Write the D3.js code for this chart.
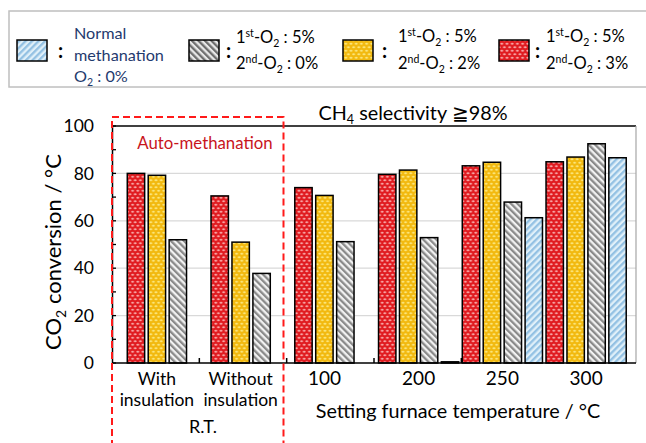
<!DOCTYPE html>
<html><head><meta charset="utf-8">
<script src="https://cdn.jsdelivr.net/npm/d3@7"></script>
<style>
html,body{margin:0;padding:0;background:#fff;}
svg{display:block;font-family:Lato,"Noto Sans",sans-serif;}
</style></head>
<body>
<svg id="chart" width="646" height="443"></svg>
<script>
// ---------- data ----------
const categories = ["With insulation", "Without insulation", "100", "200", "250", "300"];
const categoryLines = [["With", "insulation"], ["Without", "insulation"], ["100"], ["200"], ["250"], ["300"]];
const seriesKeys = ["o2_5_3", "o2_5_2", "o2_5_0", "normal"];
const redValues    = [80.0, 70.5, 74.0, 79.6, 83.2, 84.9];   // 1st-O2 5% / 2nd-O2 3%
const yellowValues = [79.2, 51.0, 70.7, 81.4, 84.7, 86.9];   // 1st-O2 5% / 2nd-O2 2%
const grayValues   = [52.0, 37.8, 51.2, 52.9, 67.9, 92.5];   // 1st-O2 5% / 2nd-O2 0%
const blueValues   = [null, null, null, 0.5, 61.3, 86.6];    // normal methanation O2 0%
const yTicks = [0, 20, 40, 60, 80, 100];
const yMinorTicks = [10, 30, 50, 70, 90];

const seriesValues = [redValues, yellowValues, grayValues, blueValues];
const seriesFill = ["url(#pRed)", "url(#pYellow)", "url(#pGray)", "url(#pBlue)"];

// ---------- setup ----------
const svg = d3.select("#chart");
const plot = {left: 112, right: 636, top: 126, bottom: 363};

const y = d3.scaleLinear().domain([0, 100]).range([plot.bottom, plot.top]);
const xGroup = d3.scaleBand().domain(categories).range([125.5, 628]).paddingInner(0).paddingOuter(0);
const xSeries = d3.scaleBand().domain(seriesKeys).range([0, xGroup.bandwidth()]).paddingInner(0.17).paddingOuter(0.085);
const xAxisBand = d3.scaleBand().domain(categories).range([plot.left, plot.right]);

// ---------- patterns ----------
const defs = svg.append("defs");
function dotPattern(id, base, dot) {
  const p = defs.append("pattern").attr("id", id).attr("patternUnits", "userSpaceOnUse")
    .attr("width", 5.2).attr("height", 7);
  p.append("rect").attr("width", 5.2).attr("height", 7).attr("fill", base);
  [[2.6, 1.75], [0, 5.25], [5.2, 5.25]].forEach(([cx, cy]) =>
    p.append("ellipse").attr("cx", cx).attr("cy", cy).attr("rx", 1.5).attr("ry", 1.0).attr("fill", dot));
}
dotPattern("pRed", "#e01b20", "#f7a3a3");
dotPattern("pYellow", "#f2b90f", "#fbe57a");
function stripePattern(id, c1, c2, angle, w) {
  const p = defs.append("pattern").attr("id", id).attr("patternUnits", "userSpaceOnUse")
    .attr("width", w).attr("height", w).attr("patternTransform", `rotate(${angle})`);
  p.append("rect").attr("width", w).attr("height", w).attr("fill", c2);
  p.append("rect").attr("width", w / 2).attr("height", w).attr("fill", c1);
}
stripePattern("pGray", "#8a8a8a", "#f2f2f2", -45, 4.6);
stripePattern("pBlue", "#93c1e3", "#e0f0f9", 45, 4.6);
stripePattern("pGrayLeg", "#6e6e6e", "#e8e8e8", -45, 4.6);

// ---------- legend ----------
svg.append("rect").attr("x", 9).attr("y", 11).attr("width", 700).attr("height", 76)
  .attr("fill", "#fff").attr("stroke", "#bfbfbf").attr("stroke-width", 1.5);

function swatch(x, yy, fill) {
  svg.append("rect").attr("x", x).attr("y", yy).attr("width", 30).attr("height", 21)
    .attr("fill", fill).attr("stroke", "#000").attr("stroke-width", 1.5);
}
function colon(x) {
  svg.append("text").attr("x", x).attr("y", 58).attr("font-size", 20).attr("font-weight", "bold").text(":");
}
function o2Line(x, yy, num, sup, val) {
  const t = svg.append("text").attr("x", x).attr("y", yy).attr("font-size", 16.5).attr("fill", "#000");
  t.append("tspan").text(num);
  t.append("tspan").attr("font-size", 10.5).attr("dy", -6).text(sup);
  t.append("tspan").attr("dy", 6).text("-O");
  t.append("tspan").attr("font-size", 10.5).attr("dy", 4).text("2");
  t.append("tspan").attr("dy", -4).text(" : " + val);
}
swatch(17, 40, "url(#pBlue)");
colon(58);
const nt = svg.append("g").attr("fill", "#1f3a6e").attr("font-size", 16.2);
nt.append("text").attr("x", 74).attr("y", 39).text("Normal");
nt.append("text").attr("x", 74).attr("y", 61).text("methanation");
const o2t = nt.append("text").attr("x", 74).attr("y", 82);
o2t.append("tspan").text("O");
o2t.append("tspan").attr("font-size", 10.5).attr("dy", 4).text("2");
o2t.append("tspan").attr("dy", -4).text(" : 0%");

swatch(189, 40, "url(#pGrayLeg)");
colon(226);
o2Line(236, 43, "1", "st", "5%");
o2Line(236, 69, "2", "nd", "0%");

swatch(343, 40, "url(#pYellow)");
colon(382);
o2Line(398, 42, "1", "st", "5%");
o2Line(398, 69, "2", "nd", "2%");

swatch(499, 40, "url(#pRed)");
colon(535);
o2Line(546, 42, "1", "st", "5%");
o2Line(546, 69, "2", "nd", "3%");

// ---------- gridlines ----------
svg.append("g").selectAll("line").data(yTicks.filter(d => d > 0 && d < 100)).join("line")
  .attr("x1", plot.left).attr("x2", plot.right).attr("y1", d => y(d)).attr("y2", d => y(d))
  .attr("stroke", "#d9d9d9").attr("stroke-width", 1.2);

// frame top & right
svg.append("line").attr("x1", plot.left).attr("x2", plot.right).attr("y1", plot.top).attr("y2", plot.top)
  .attr("stroke", "#000").attr("stroke-width", 1.5);
svg.append("line").attr("x1", plot.right).attr("x2", plot.right).attr("y1", plot.top).attr("y2", plot.bottom)
  .attr("stroke", "#a6a6a6").attr("stroke-width", 1.2);

// category tick marks (inward)
svg.append("g").selectAll("line").data(categories.slice(1)).join("line")
  .attr("x1", d => xAxisBand(d)).attr("x2", d => xAxisBand(d))
  .attr("y1", plot.bottom).attr("y2", plot.bottom - 5)
  .attr("stroke", "#000").attr("stroke-width", 1.5);

// ---------- bars ----------
const barData = [];
categories.forEach((c, ci) => {
  seriesKeys.forEach((k, si) => {
    const v = seriesValues[si][ci];
    if (v !== null && v !== undefined) barData.push({c, k, v, si});
  });
});
svg.append("g").selectAll("rect").data(barData).join("rect")
  .attr("x", d => xGroup(d.c) + xSeries(d.k))
  .attr("width", xSeries.bandwidth())
  .attr("y", d => y(d.v))
  .attr("height", d => y(0) - y(d.v))
  .attr("fill", d => seriesFill[d.si])
  .attr("stroke", "#000").attr("stroke-width", 1.5);

// ---------- axes ----------
const yAxis = d3.axisLeft(y).tickValues(yTicks).tickSize(0).tickPadding(18).tickFormat(d3.format("d"));
const ya = svg.append("g").attr("transform", `translate(${plot.left},0)`).call(yAxis);
ya.select(".domain").attr("stroke", "#000").attr("stroke-width", 1.5);
ya.selectAll("text").attr("font-size", 17.5).attr("fill", "#000").attr("font-family", "Lato, sans-serif");
// inward ticks
svg.append("g").selectAll("line").data(yTicks.concat(yMinorTicks)).join("line")
  .attr("x1", plot.left).attr("x2", plot.left + 4).attr("y1", d => y(d)).attr("y2", d => y(d))
  .attr("stroke", "#000").attr("stroke-width", 1.3);

svg.append("line").attr("x1", plot.left).attr("x2", plot.right).attr("y1", plot.bottom).attr("y2", plot.bottom)
  .attr("stroke", "#000").attr("stroke-width", 1.5);

// category labels centred under the bars present
categories.forEach((c, ci) => {
  const present = seriesKeys.filter((k, si) => seriesValues[si][ci] !== null);
  const x0 = xGroup(c) + xSeries(present[0]);
  const x1 = xGroup(c) + xSeries(present[present.length - 1]) + xSeries.bandwidth();
  const cx = (x0 + x1) / 2;
  const lines = categoryLines[ci];
  lines.forEach((ln, li) => {
    svg.append("text").attr("x", cx).attr("y", 385 + li * 21)
      .attr("text-anchor", "middle").attr("font-size", lines.length > 1 ? 17.5 : 19)
      .attr("fill", "#000").text(ln);
  });
});
svg.append("text").attr("x", 203).attr("y", 433).attr("text-anchor", "middle")
  .attr("font-size", 18).text("R.T.");
svg.append("text").attr("x", 458).attr("y", 418).attr("text-anchor", "middle")
  .attr("font-size", 19.8).text("Setting furnace temperature / °C");

// y-axis title
const yt = svg.append("text").attr("transform", "translate(61,252) rotate(-90)")
  .attr("text-anchor", "middle").attr("font-size", 22).attr("fill", "#000");
yt.append("tspan").text("CO");
yt.append("tspan").attr("font-size", 14).attr("dy", 5).text("2");
yt.append("tspan").attr("dy", -5).text(" conversion / °C");

// title
const tt = svg.append("text").attr("x", 413).attr("y", 120).attr("text-anchor", "middle")
  .attr("font-size", 19.8).attr("fill", "#000");
tt.append("tspan").text("CH");
tt.append("tspan").attr("font-size", 12.5).attr("dy", 4).text("4");
tt.append("tspan").attr("dy", -4).text(" selectivity ≧98%");

// auto-methanation box
svg.append("rect").attr("x", 112).attr("y", 117).attr("width", 171.5).attr("height", 340)
  .attr("fill", "none").attr("stroke", "#ff1a1a").attr("stroke-width", 2).attr("stroke-dasharray", "7,4");
svg.append("text").attr("x", 205).attr("y", 149).attr("text-anchor", "middle")
  .attr("font-size", 16.8).attr("fill", "#c8141c").text("Auto-methanation");
</script>
</body></html>
